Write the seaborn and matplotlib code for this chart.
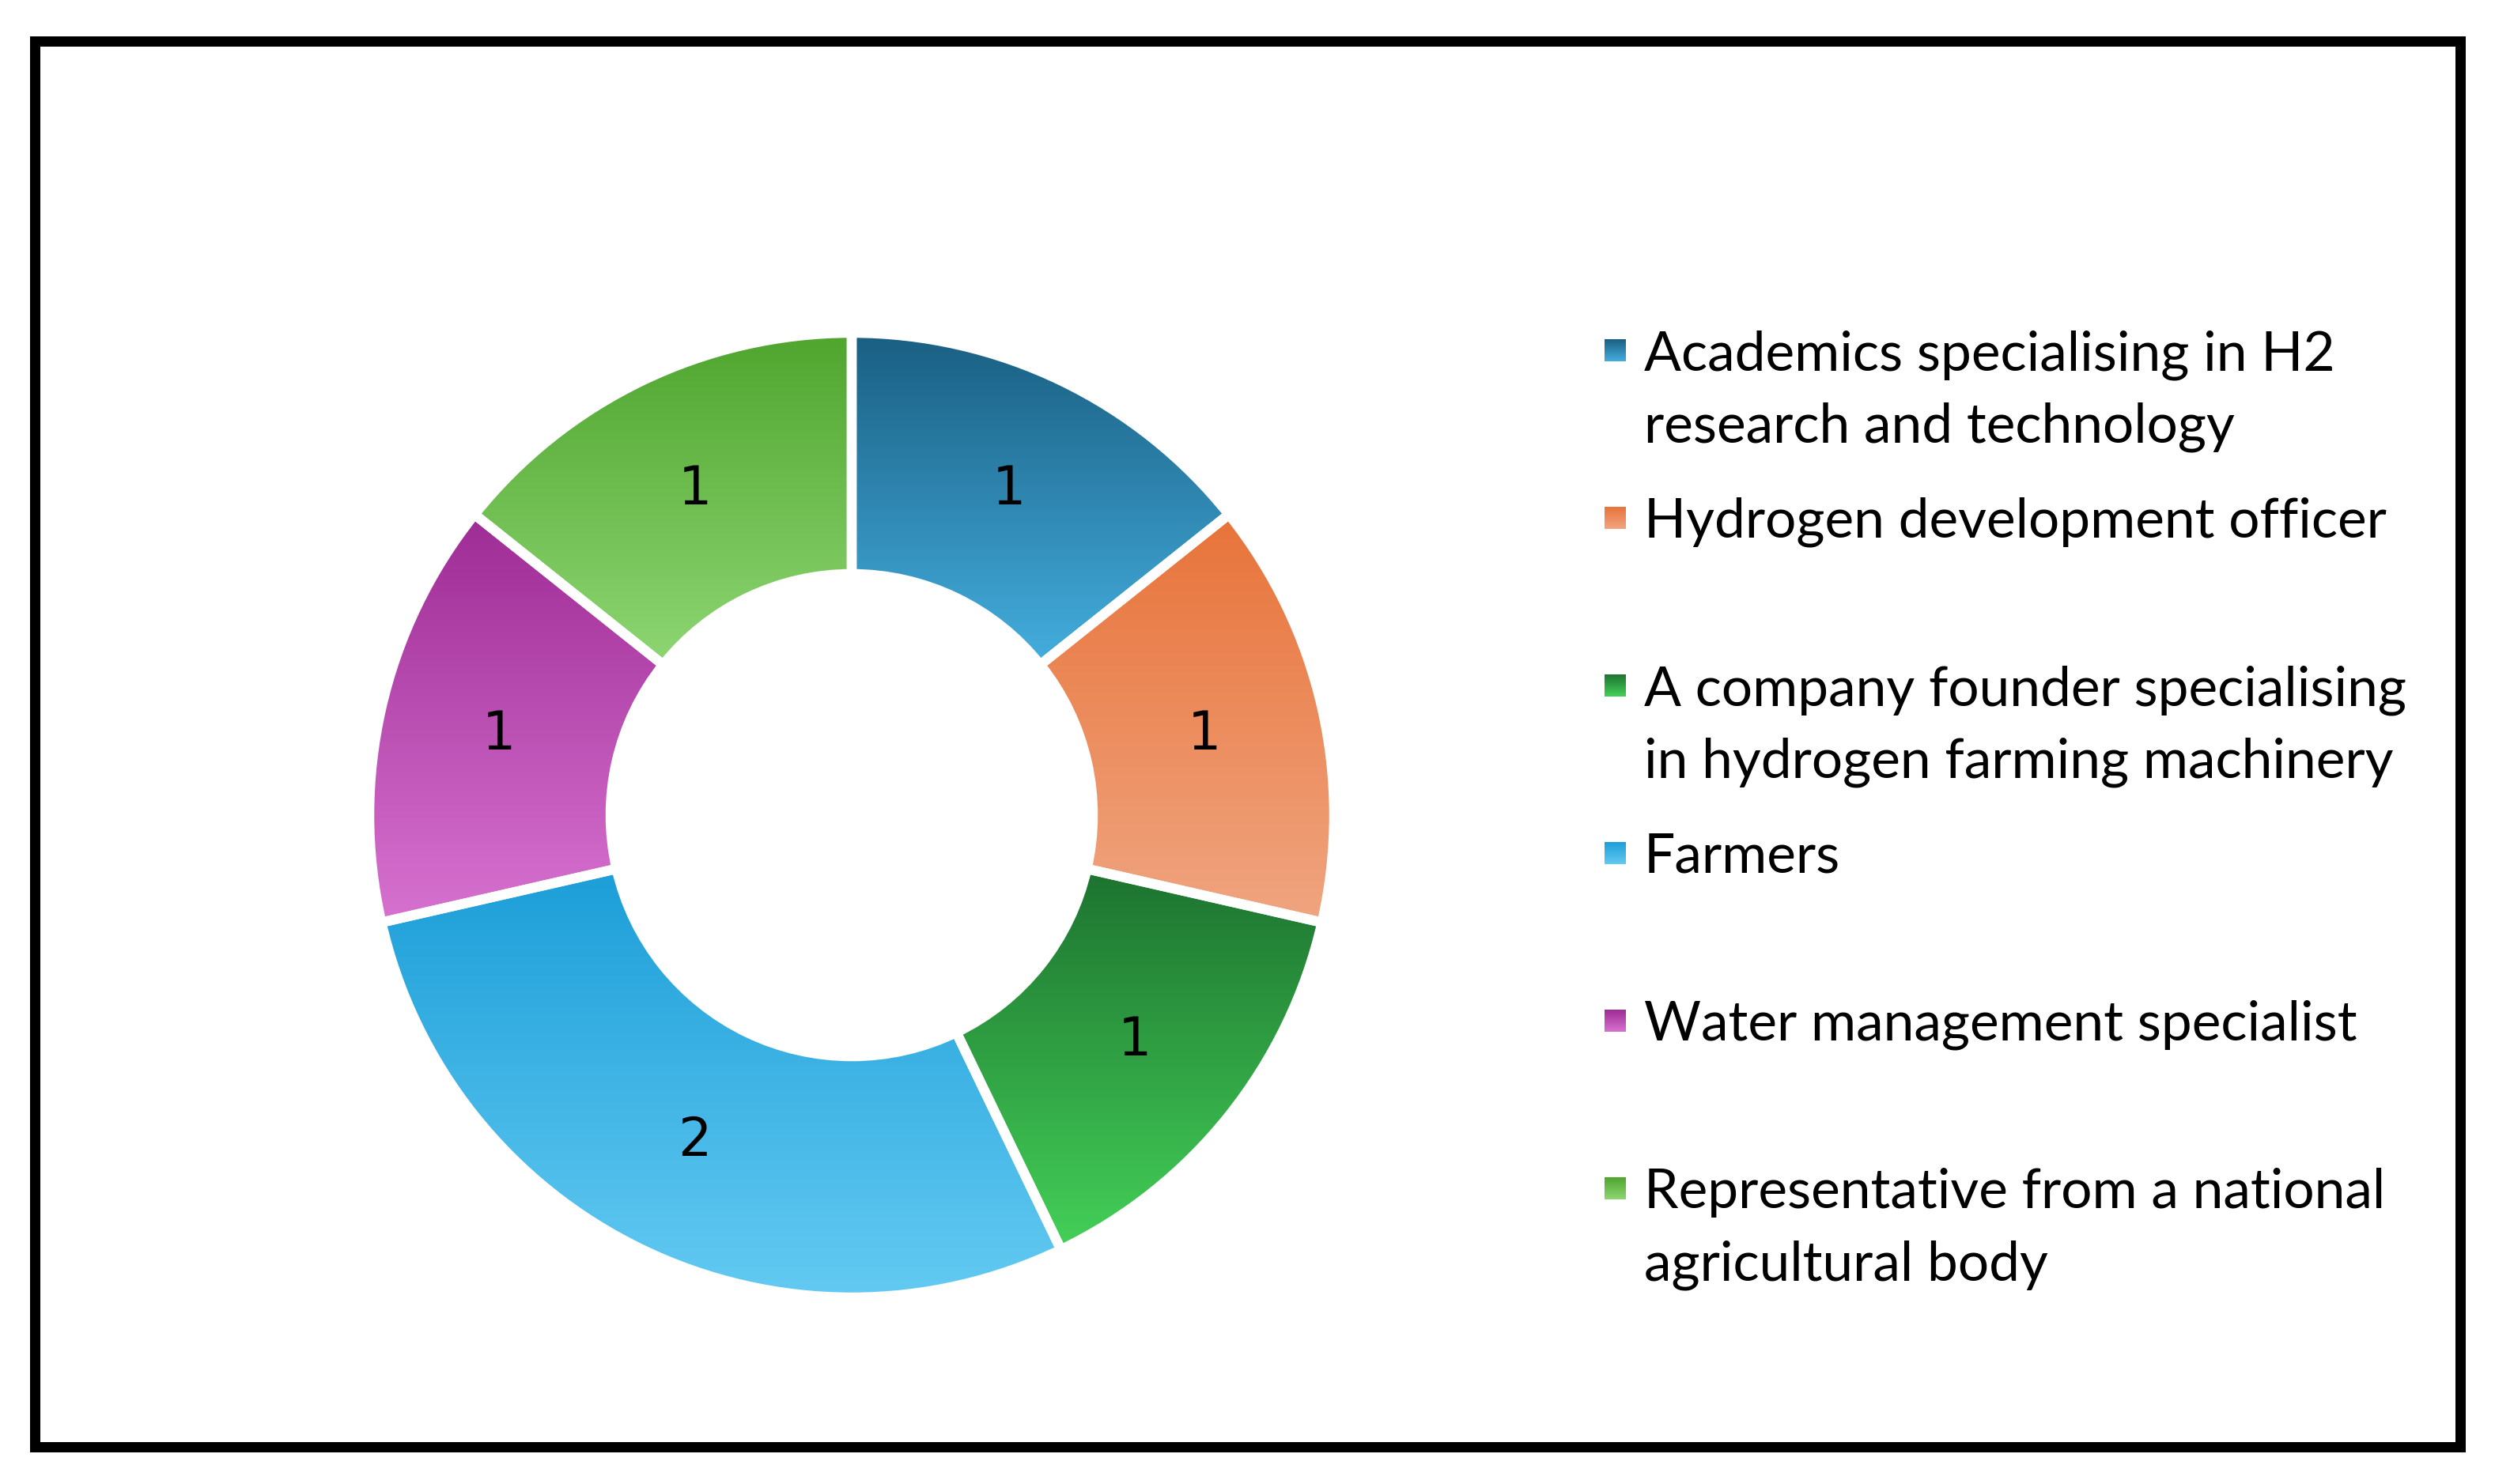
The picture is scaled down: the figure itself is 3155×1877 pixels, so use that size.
import numpy as np
import matplotlib
matplotlib.use("Agg")
import matplotlib.pyplot as plt
from matplotlib.patches import Rectangle
import seaborn as sns

# stakeholder groups and number of interviewees in each
groups = [
    "Academics specialising in H2\nresearch and technology",
    "Hydrogen development officer",
    "A company founder specialising\nin hydrogen farming machinery",
    "Farmers",
    "Water management specialist",
    "Representative from a national\nagricultural body",
]
counts = [1, 1, 1, 2, 1, 1]
top_colors = ["#1a5f82", "#e8733a", "#1d7330", "#1c9ed8", "#9e2c95", "#4fa52e"]
bottom_colors = ["#44aede", "#f0a580", "#44d058", "#63caf2", "#d772d0", "#8ed673"]

W, H = 3155, 1877
sns.set_theme(style="white")
fig = plt.figure(figsize=(W / 100, H / 100), dpi=100)


def gradient(c0, c1):
    """Vertical gradient image, top colour to bottom colour."""
    return np.array(sns.blend_palette([c0, c1], n_colors=256))[:, None, :]


# donut
cx, cy, R = 1077, 1031, 610
ax = fig.add_axes([(cx - R) / W, 1 - (cy + R) / H, 2 * R / W, 2 * R / H])
total = sum(counts)
wedges, _, autotexts = ax.pie(
    counts,
    startangle=90,
    counterclock=False,
    radius=1,
    wedgeprops=dict(width=0.5, edgecolor="white", linewidth=9),
    autopct=lambda p: f"{round(p * total / 100)}",
    pctdistance=0.75,
    textprops=dict(fontsize=48, color="black", family="DejaVu Sans"),
)
for w, c0, c1 in zip(wedges, top_colors, bottom_colors):
    ext = w.get_path().get_extents()
    im = ax.imshow(gradient(c0, c1), extent=[ext.x0, ext.x1, ext.y0, ext.y1],
                   origin="upper", aspect="auto", interpolation="bilinear", zorder=1)
    im.set_clip_path(w)
    w.set_facecolor("none")
    w.set_zorder(2)
for t in autotexts:
    t.set_zorder(3)
ax.set_xlim(-1, 1)
ax.set_ylim(-1, 1)
ax.set_aspect("equal")
ax.axis("off")

# overlay in pixel coords: frame + legend
ov = fig.add_axes([0, 0, 1, 1], zorder=5)
ov.add_patch(Rectangle((43.5, 51.5), 3111 - 43.5, 1830 - 51.5, fill=False,
                       edgecolor="black", linewidth=13 * 0.72))
for i, (lab, c0, c1) in enumerate(zip(groups, top_colors, bottom_colors)):
    yc = 443 + 212 * i
    ov.imshow(gradient(c0, c1), extent=[2029, 2056, yc + 14, yc - 14],
              origin="upper", aspect="auto", interpolation="bilinear")
    for j, line in enumerate(lab.split("\n")):
        ov.text(2079, yc + 25 + 91 * j, line, fontsize=50, family=["Lato", "DejaVu Sans"],
                va="baseline", ha="left", color="black")
ov.set_xlim(0, W)
ov.set_ylim(H, 0)
ov.axis("off")

fig.savefig("out.png", dpi=100, facecolor="white")
